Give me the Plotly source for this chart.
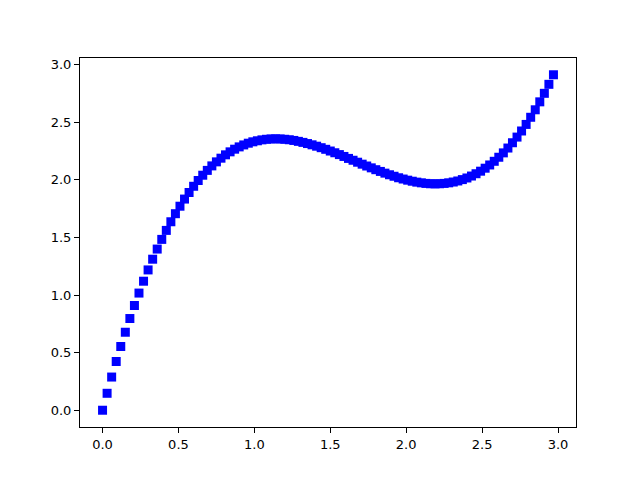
import plotly.graph_objects as go

x_values = [
    0.00, 0.03, 0.06, 0.09, 0.12, 0.15, 0.18, 0.21, 0.24, 0.27,
    0.30, 0.33, 0.36, 0.39, 0.42, 0.45, 0.48, 0.51, 0.54, 0.57,
    0.60, 0.63, 0.66, 0.69, 0.72, 0.75, 0.78, 0.81, 0.84, 0.87,
    0.90, 0.93, 0.96, 0.99, 1.02, 1.05, 1.08, 1.11, 1.14, 1.17,
    1.20, 1.23, 1.26, 1.29, 1.32, 1.35, 1.38, 1.41, 1.44, 1.47,
    1.50, 1.53, 1.56, 1.59, 1.62, 1.65, 1.68, 1.71, 1.74, 1.77,
    1.80, 1.83, 1.86, 1.89, 1.92, 1.95, 1.98, 2.01, 2.04, 2.07,
    2.10, 2.13, 2.16, 2.19, 2.22, 2.25, 2.28, 2.31, 2.34, 2.37,
    2.40, 2.43, 2.46, 2.49, 2.52, 2.55, 2.58, 2.61, 2.64, 2.67,
    2.70, 2.73, 2.76, 2.79, 2.82, 2.85, 2.88, 2.91, 2.94, 2.97,
]

y_values = [
    0.000, 0.147, 0.288, 0.423, 0.553, 0.677, 0.796, 0.909, 1.017, 1.120,
    1.218, 1.311, 1.399, 1.483, 1.561, 1.636, 1.706, 1.771, 1.833, 1.890,
    1.944, 1.994, 2.040, 2.082, 2.121, 2.156, 2.188, 2.217, 2.243, 2.266,
    2.286, 2.303, 2.318, 2.330, 2.339, 2.347, 2.352, 2.355, 2.356, 2.355,
    2.352, 2.348, 2.342, 2.334, 2.325, 2.315, 2.304, 2.292, 2.279, 2.265,
    2.250, 2.235, 2.219, 2.203, 2.186, 2.170, 2.153, 2.136, 2.120, 2.104,
    2.088, 2.073, 2.058, 2.044, 2.031, 2.018, 2.007, 1.997, 1.988, 1.980,
    1.974, 1.969, 1.966, 1.965, 1.966, 1.969, 1.974, 1.981, 1.990, 2.002,
    2.016, 2.033, 2.053, 2.075, 2.101, 2.129, 2.161, 2.196, 2.234, 2.276,
    2.322, 2.371, 2.424, 2.481, 2.543, 2.608, 2.677, 2.751, 2.829, 2.912,
]

tick_vals = [0.0, 0.5, 1.0, 1.5, 2.0, 2.5, 3.0]
tick_text = ["0.0", "0.5", "1.0", "1.5", "2.0", "2.5", "3.0"]

fig = go.Figure()
fig.add_trace(go.Scatter(
    x=x_values, y=y_values, mode="markers",
    marker=dict(symbol="square", size=9, color="#0000ff", line=dict(width=0)),
    showlegend=False,
))

xmin, xmax = min(x_values), max(x_values)
ymin, ymax = min(y_values), max(y_values)
xpad = 0.05 * (xmax - xmin)
ypad = 0.05 * (ymax - ymin)

axis_common = dict(
    showline=True, linecolor="black", linewidth=1, mirror=True,
    ticks="outside", ticklen=5, tickwidth=1, tickcolor="black",
    showgrid=False, zeroline=False,
    tickfont=dict(family="DejaVu Sans", size=13, color="black"),
    tickvals=tick_vals, ticktext=tick_text,
)

fig.update_layout(
    width=640, height=480,
    margin=dict(l=72, r=72, t=50, b=61),
    paper_bgcolor="white", plot_bgcolor="white",
    xaxis=dict(range=[xmin - xpad, xmax + xpad], **axis_common),
    yaxis=dict(range=[ymin - ypad, ymax + ypad], **axis_common),
)

fig.write_html("out.html")
